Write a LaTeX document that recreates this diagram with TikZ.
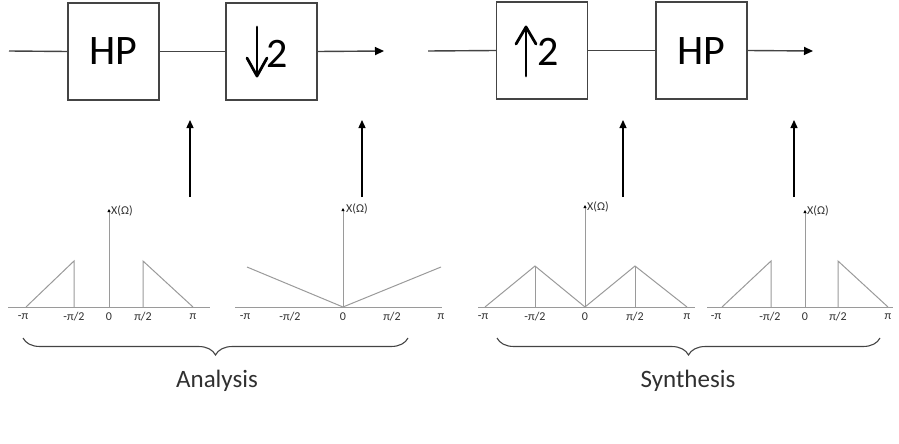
\documentclass[tikz,border=0pt]{standalone}
\usepackage{fontspec}
\setmainfont{Carlito}
\usetikzlibrary{arrows.meta,decorations.pathreplacing}
\definecolor{blkgray}{HTML}{444444}
\definecolor{pltgray}{HTML}{9A9A9A}
\definecolor{txtgray}{HTML}{303030}
\begin{document}
\begin{tikzpicture}[x=1pt,y=-1pt,
  blk/.style={draw=blkgray, line width=1.4pt, fill=white, minimum width=91pt, minimum height=97pt, inner sep=0pt},
  bigtxt/.style={font=\fontsize{42}{42}\selectfont, text=black, inner sep=0pt},
  wire/.style={draw=blkgray, line width=1.4pt},
  sig/.style={wire, -{Triangle[length=9pt,width=8pt,color=black]}},
  uparr/.style={draw=black, line width=1.3pt, -{Triangle[length=8pt,width=7pt]}},
  rate/.style={draw=black, line width=2.8pt, line cap=round, line join=round},
  plt/.style={draw=pltgray, line width=1pt},
  yax/.style={plt, -{Triangle[length=3pt,width=3pt,color=black]}},
  ticklbl/.style={font=\fontsize{12}{12}\selectfont, text=txtgray, inner sep=0pt},
  brc/.style={draw=blkgray, line width=1.1pt, decorate, decoration={brace, mirror, amplitude=17pt}},
  grp/.style={font=\fontsize{25}{25}\selectfont, text=txtgray, inner sep=0pt}
]
\useasboundingbox (0,0) rectangle (899,444);

% ---- block chain ----
\node[blk] (hp1) at (113.5,51.5) {};
\node[bigtxt] (hp1t) at (113,51) {HP};
\node[blk] (dn) at (271.5,51.5) {};
\node[bigtxt] (two1) at (277.5,54) {2};
\node[blk] (upb) at (542,50.5) {};
\node[bigtxt] (two2) at (548,51.5) {2};
\node[blk] (hp2) at (701.5,50.5) {};
\node[bigtxt] (hp2t) at (701,51) {HP};

\coordinate (in1) at (9,51);
\coordinate (out1) at (384,51);
\coordinate (in2) at (428,51);
\coordinate (out2) at (813,51);

\draw[wire] (in1) -- (hp1.west);
\draw[wire] (hp1.east) -- (dn.west);
\draw[sig] (dn.east) -- (out1);
\draw[wire] (in2) -- (upb.west);
\draw[wire] (upb.east) -- (hp2.west);
\draw[sig] (hp2.east) -- (out2);

% rate-change arrows
\coordinate (dnA) at (257,27);
\coordinate (dnB) at (257,76);
\draw[rate] (dnA) -- (dnB);
\draw[rate] (247,58) -- (dnB) -- (267,58);
\coordinate (upA) at (526,76);
\coordinate (upB) at (526,27);
\draw[rate] (upA) -- (upB);
\draw[rate] (516,44) -- (upB) -- (536,44);

% vertical arrows from spectra
\foreach \i/\x in {1/190,2/362,3/623,4/794}{
  \coordinate (vb\i) at (\x,197);
  \coordinate (vt\i) at (\x,120);
  \draw[uparr] (vb\i) -- (vt\i);
}

% ---- spectrum 1 ----
\draw[plt] (8,307) -- (210,307);
\draw[yax] (109,307) -- (109,209);
\node[ticklbl, anchor=west] (x1) at (111,211) {X(Ω)};
\draw[plt] (26,307) -- (74,261) -- (74,307);
\draw[plt] (143,307) -- (143,261) -- (193,307);
\foreach \x/\t in {23/-π,74/-π\slash 2,109/0,143/π\slash 2,193/π}
  \node[ticklbl] at (\x,317) {\t};

% ---- spectrum 2 ----
\draw[plt] (235,307) -- (442,307);
\draw[yax] (343,307) -- (343,208);
\node[ticklbl, anchor=west] (x2) at (346,209) {X(Ω)};
\draw[plt] (247,267) -- (343,307) -- (441,267);
\foreach \x/\t in {245/-π,290/-π\slash 2,343/0,392/π\slash 2,441/π}
  \node[ticklbl] at (\x,317) {\t};

% ---- spectrum 3 ----
\draw[plt] (478,307) -- (695,307);
\draw[yax] (585,307) -- (585,205);
\node[ticklbl, anchor=west] (x3) at (587,207) {X(Ω)};
\draw[plt] (485,307) -- (535,266) -- (585,307) -- (635,266) -- (687,307);
\draw[plt] (535,266) -- (535,307);
\draw[plt] (635,266) -- (635,307);
\foreach \x/\t in {483/-π,535/-π\slash 2,585/0,635/π\slash 2,687/π}
  \node[ticklbl] at (\x,317) {\t};

% ---- spectrum 4 ----
\draw[plt] (707,307) -- (893,307);
\draw[yax] (805,307) -- (805,210);
\node[ticklbl, anchor=west] (x4) at (807,211) {X(Ω)};
\draw[plt] (722,307) -- (771,261) -- (771,307);
\draw[plt] (838,307) -- (838,261) -- (888,307);
\foreach \x/\t in {716/-π,770/-π\slash 2,805/0,838/π\slash 2,888/π}
  \node[ticklbl] at (\x,317) {\t};

% ---- braces ----
\coordinate (a1) at (23,338);
\coordinate (a2) at (408,338);
\draw[brc] (a1) -- (a2);
\node[grp] (ana) at (217,381) {Analysis};
\coordinate (s1) at (497,338);
\coordinate (s2) at (880,338);
\draw[brc] (s1) -- (s2);
\node[grp] (syn) at (688,381) {Synthesis};
\end{tikzpicture}
\end{document}
